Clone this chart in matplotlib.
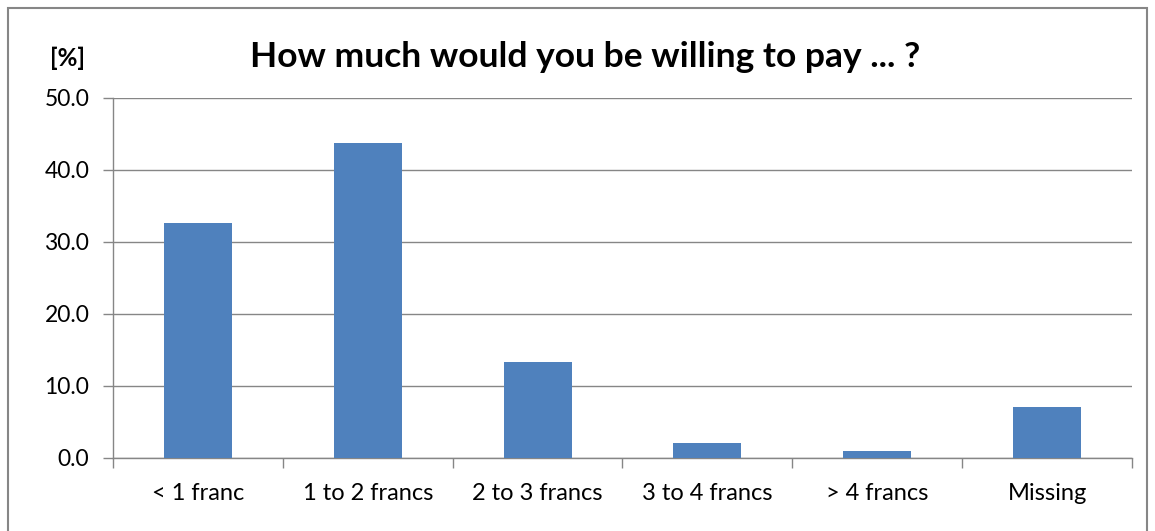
import matplotlib
matplotlib.use("Agg")
import matplotlib.pyplot as plt
import numpy as np
from matplotlib.patches import Rectangle

# Data
categories = ['< 1 franc', '1 to 2 francs', '2 to 3 francs', '3 to 4 francs', '> 4 francs', 'Missing']
values = [32.6, 43.7, 13.3, 2.1, 1.0, 7.1]
y_ticks = [0, 10, 20, 30, 40, 50]

plt.rcParams['font.family'] = ['Lato', 'DejaVu Sans']

fig = plt.figure(figsize=(11.55, 5.31), dpi=100)
W, H = 1155, 531
ax = fig.add_axes([113 / W, 1 - 458 / H, (1132 - 113) / W, (458 - 98) / H])

# outer chart border
fig.patches.append(Rectangle((8 / W, -0.01), (1147 - 8) / W, 1 - 8 / H + 0.01,
                             transform=fig.transFigure, fill=False,
                             edgecolor='#868686', linewidth=1.5))

x = np.arange(len(categories))
ax.bar(x, values, width=0.4, color='#4F81BD', zorder=3)

ax.set_xlim(-0.5, len(categories) - 0.5)
ax.set_ylim(0, 50)
ax.set_yticks(y_ticks)
ax.set_yticklabels([f'{v:.1f}' for v in y_ticks], fontsize=16.5)
ax.set_xticks(x)
ax.set_xticklabels(categories, fontsize=17)
ax.set_xticks(np.arange(-0.5, len(categories), 1), minor=True)
ax.tick_params(axis='x', which='major', length=0, pad=18)
ax.tick_params(axis='x', which='minor', length=7, color='#868686', width=1)
ax.tick_params(axis='y', length=7, color='#868686', width=1, pad=10)

ax.grid(axis='y', color='#868686', linewidth=1, zorder=0)
for side in ['top', 'right']:
    ax.spines[side].set_visible(False)
for side in ['left', 'bottom']:
    ax.spines[side].set_color('#868686')
    ax.spines[side].set_linewidth(1)

fig.text(585 / W, 1 - 57 / H, 'How much would you be willing to pay ... ?',
         ha='center', va='center', fontsize=25.5, fontweight='bold')
fig.text(68 / W, 1 - 58 / H, '[%]', ha='center', va='center',
         fontsize=17.5, fontweight='bold')

fig.savefig('out.png', dpi=100)
